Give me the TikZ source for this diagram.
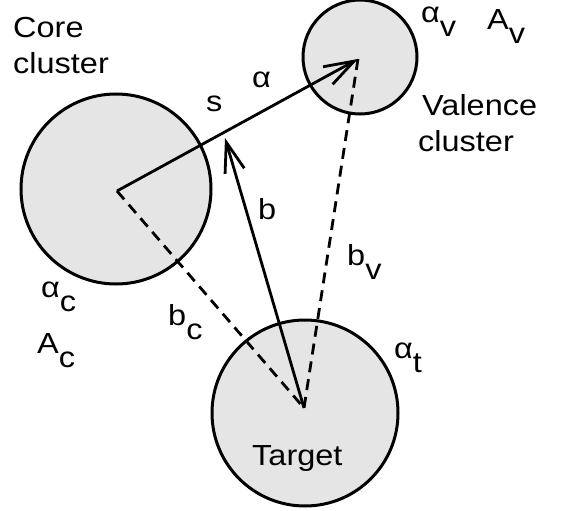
\documentclass[tikz,border=0pt]{standalone}
\usepackage{fontspec}
\setmainfont{Liberation Sans}[FakeStretch=1.12]
\usetikzlibrary{arrows.meta}
\newcommand{\lowsub}[1]{\raisebox{-14pt}{#1}}
\begin{document}
\begin{tikzpicture}[x=1pt,y=-1pt,
  ball/.style={circle,draw=black,line width=3pt,fill=black!10,inner sep=0pt},
  solidline/.style={line width=2.8pt},
  dashline/.style={line width=2.8pt,dash pattern=on 11pt off 7pt},
  barb/.style={-{Straight Barb[length=30pt,width=20pt,line width=2.8pt]}},
  lbl/.style={anchor=base west,inner sep=0pt,font=\fontsize{29}{35}\selectfont}]
\useasboundingbox (0,0) rectangle (568,511);
% circles
\node[ball,minimum size=190pt] (core) at (116,189) {};
\node[ball,minimum size=114pt] (val) at (360,57) {};
\node[ball,minimum size=186pt] (targ) at (305,413) {};
% points
\coordinate (pc) at (117,191);
\coordinate (pv) at (358,59);
\coordinate (pt) at (304,408);
\coordinate (ps) at (225,138);
% connectors
\draw[dashline] (pc) -- (pt);
\draw[dashline] (pv) -- (pt);
\draw[solidline,barb] (pc) -- (pv);
\draw[solidline,barb] (pt) -- (ps);
% labels
\node[lbl] (core1) at (13,38) {Core};
\node[lbl] (core2) at (13,74) {cluster};
\node[lbl] (val1) at (422,115) {Valence};
\node[lbl] (val2) at (418,151) {cluster};
\node[lbl] (tg) at (252,465) {Target};
\node[lbl] (s) at (206,111) {s};
\node[lbl] (al) at (252,88) {α};
\node[lbl] (b) at (258,219) {b};
\node[lbl] (bv) at (347,265) {b\lowsub{v}};
\node[lbl] (bc) at (168,325) {b\lowsub{c}};
\node[lbl] (ac) at (41,297) {α\lowsub{c}};
\node[lbl] (Ac) at (37,353) {A\lowsub{c}};
\node[lbl] (at) at (394,358) {α\lowsub{t}};
\node[lbl] (av) at (421,23) {α\lowsub{v}};
\node[lbl] (Av) at (487,30) {A\lowsub{v}};
\end{tikzpicture}
\end{document}
